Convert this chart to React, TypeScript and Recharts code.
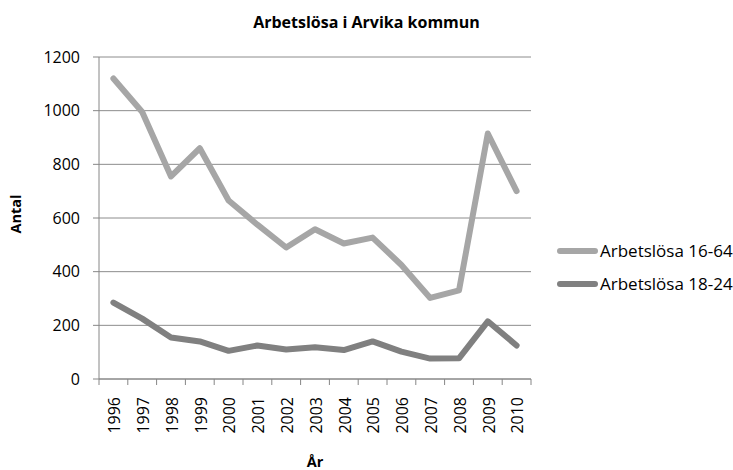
import { LineChart, Line, XAxis, YAxis, CartesianGrid, Legend } from "recharts";

const years = ["1996", "1997", "1998", "1999", "2000", "2001", "2002", "2003", "2004", "2005", "2006", "2007", "2008", "2009", "2010"];
const arbetslosa1664 = [1120, 995, 755, 860, 665, 575, 490, 558, 505, 527, 425, 302, 330, 915, 700];
const arbetslosa1824 = [285, 225, 155, 140, 105, 125, 110, 118, 108, 140, 102, 76, 77, 215, 125];
const yTicks = [0, 200, 400, 600, 800, 1000, 1200];

const data = years.map((year, i) => ({
  year,
  a1664: arbetslosa1664[i],
  a1824: arbetslosa1824[i],
}));

const W = 733;
const H = 470;
const PLOT_LEFT = 99;
const PLOT_RIGHT = 531;
const STEP = (PLOT_RIGHT - PLOT_LEFT) / years.length;
const TICK_SIZE = 6;
const TICK_MARGIN = 12;
const AXIS = "#868686";
const FONT = '"Open Sans", sans-serif';

const XTick = (props: any) => {
  const { x, y, payload, index } = props;
  const axisY = y - TICK_MARGIN - TICK_SIZE;
  return (
    <g>
      <line x1={x - STEP / 2} x2={x - STEP / 2} y1={axisY} y2={axisY + TICK_SIZE} stroke={AXIS} />
      {index === years.length - 1 && (
        <line x1={x + STEP / 2} x2={x + STEP / 2} y1={axisY} y2={axisY + TICK_SIZE} stroke={AXIS} />
      )}
      <text
        transform={`translate(${x + 1},${y}) rotate(-90)`}
        textAnchor="end"
        dy="0.36em"
        fontSize={16}
        fill="#000"
        fontFamily={FONT}
      >
        {payload.value}
      </text>
    </g>
  );
};

const renderLegend = (props: any) => {
  const items = props.payload || [];
  return (
    <div>
      {items.map((item: any) => (
        <div key={item.value} style={{ display: "flex", alignItems: "center", height: 33 }}>
          <svg width={46} height={10} style={{ flex: "none" }}>
            <line x1={6} x2={41} y1={5} y2={5} stroke={item.color} strokeWidth={6} strokeLinecap="round" />
          </svg>
          <span style={{ fontSize: 17, color: "#000", fontFamily: FONT, whiteSpace: "nowrap" }}>{item.value}</span>
        </div>
      ))}
    </div>
  );
};

export default function App() {
  return (
    <div style={{ position: "absolute", left: 0, top: 0, width: W, height: H, background: "#fff", fontFamily: FONT }}>
      <div
        style={{
          position: "absolute",
          top: 10,
          left: 0,
          width: W,
          textAlign: "center",
          fontWeight: 700,
          fontSize: 16,
          lineHeight: "24px",
          color: "#000",
        }}
      >
        Arbetslösa i Arvika kommun
      </div>
      <LineChart width={W} height={H} data={data} margin={{ top: 57, right: W - PLOT_RIGHT, bottom: 0, left: 0 }}>
        <CartesianGrid vertical={false} stroke="#8c8c8c" />
        <XAxis
          dataKey="year"
          height={H - 379}
          padding={{ left: STEP / 2, right: STEP / 2 }}
          stroke={AXIS}
          tickLine={false}
          tickSize={TICK_SIZE}
          tickMargin={TICK_MARGIN}
          interval={0}
          tick={<XTick />}
          label={{ value: "År", position: "insideBottom", offset: 3, fontWeight: 700, fontSize: 14.5, fill: "#000", fontFamily: FONT }}
        />
        <YAxis
          width={PLOT_LEFT}
          domain={[0, 1200]}
          ticks={yTicks}
          stroke={AXIS}
          tickSize={6}
          tickMargin={13}
          tick={{ fontSize: 16, fill: "#000", fontFamily: FONT }}
          label={{
            content: (p: any) => {
              const vb = p.viewBox;
              const cx = vb.x + 16;
              const cy = vb.y + vb.height / 2 - 4;
              return (
                <text
                  transform={`translate(${cx},${cy}) rotate(-90)`}
                  textAnchor="middle"
                  dy="0.36em"
                  fontWeight={700}
                  fontSize={14.5}
                  fill="#000"
                  fontFamily={FONT}
                >
                  Antal
                </text>
              );
            },
          }}
        />
        <Legend
          layout="horizontal"
          align="center"
          verticalAlign="middle"
          wrapperStyle={{ left: 554, top: 234, width: 179 }}
          content={renderLegend}
        />
        <Line
          dataKey="a1664"
          name="Arbetslösa 16-64"
          stroke="#a6a6a6"
          strokeWidth={6}
          strokeLinecap="round"
          strokeLinejoin="round"
          dot={false}
          activeDot={false}
          isAnimationActive={false}
        />
        <Line
          dataKey="a1824"
          name="Arbetslösa 18-24"
          stroke="#808080"
          strokeWidth={6}
          strokeLinecap="round"
          strokeLinejoin="round"
          dot={false}
          activeDot={false}
          isAnimationActive={false}
        />
      </LineChart>
    </div>
  );
}
